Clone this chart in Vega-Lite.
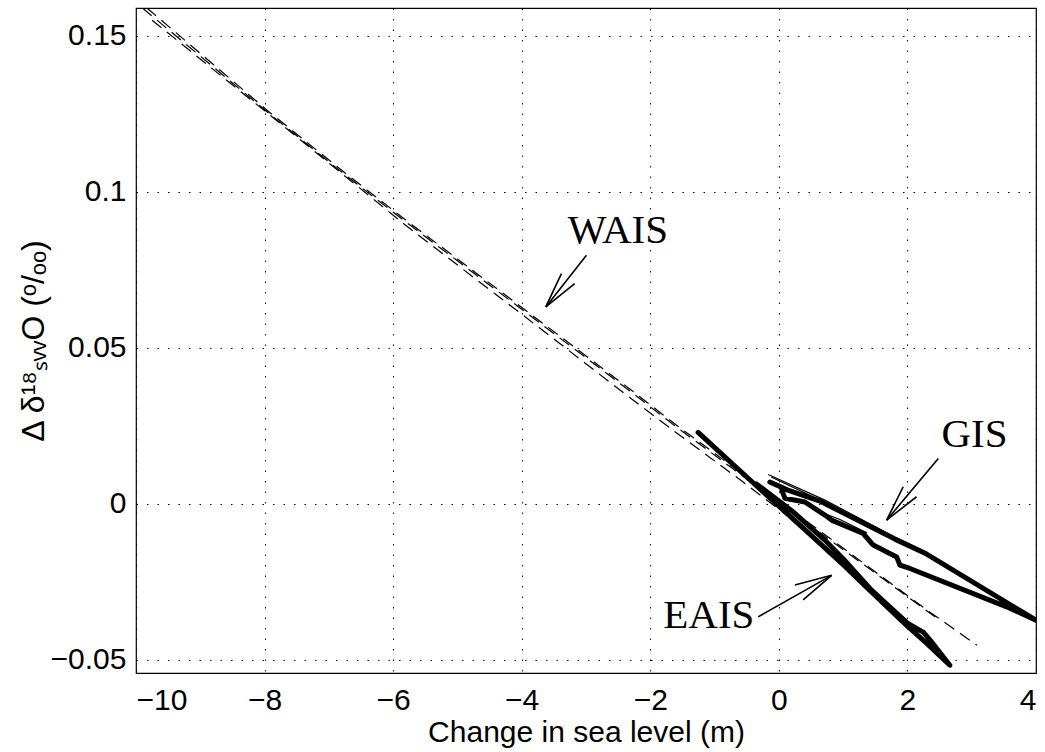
{
  "$schema": "https://vega.github.io/schema/vega-lite/v6.json",
  "width": 900,
  "height": 665,
  "autosize": {"type": "none"},
  "padding": {"left": 136, "top": 8, "right": 9, "bottom": 79},
  "background": "white",
  "config": {
    "view": {"stroke": "#000", "strokeWidth": 1.2},
    "font": "Liberation Sans"
  },
  "datasets": {
    "wais": [
      {"line": "A1", "i": 1, "x": -9.83, "y": 0.1589},
      {"line": "A1", "i": 2, "x": -7.93, "y": 0.1256},
      {"line": "A1", "i": 3, "x": -6.77, "y": 0.1064},
      {"line": "A1", "i": 4, "x": -5.82, "y": 0.0912},
      {"line": "A1", "i": 5, "x": -3.70, "y": 0.0583},
      {"line": "A1", "i": 6, "x": -2.293, "y": 0.0364},
      {"line": "A1", "i": 7, "x": -1.592, "y": 0.0252},
      {"line": "A1", "i": 8, "x": 0.0, "y": 0.0010},
      {"line": "A1", "i": 9, "x": 2.35, "y": -0.0347},
      {"line": "A1", "i": 10, "x": 3.08, "y": -0.0453},
      {"line": "A2", "i": 1, "x": -9.9, "y": 0.1589},
      {"line": "A2", "i": 2, "x": -7.93, "y": 0.1251},
      {"line": "A2", "i": 3, "x": -6.77, "y": 0.1058},
      {"line": "A2", "i": 4, "x": -5.82, "y": 0.0906},
      {"line": "A2", "i": 5, "x": -3.70, "y": 0.0577},
      {"line": "A2", "i": 6, "x": -2.293, "y": 0.0358},
      {"line": "A2", "i": 7, "x": -1.592, "y": 0.0246},
      {"line": "A2", "i": 8, "x": 0.0, "y": 0.0004},
      {"line": "A2", "i": 9, "x": 2.45, "y": -0.0365},
      {"line": "B", "i": 1, "x": -9.75, "y": 0.1550},
      {"line": "B", "i": 2, "x": -7.93, "y": 0.1248},
      {"line": "B", "i": 3, "x": -5.82, "y": 0.0895},
      {"line": "B", "i": 4, "x": -3.73, "y": 0.0565},
      {"line": "B", "i": 5, "x": -2.335, "y": 0.0343},
      {"line": "B", "i": 6, "x": -1.634, "y": 0.0234},
      {"line": "B", "i": 7, "x": -0.576, "y": 0.0073},
      {"line": "B", "i": 8, "x": 0.5, "y": -0.0096}
    ],
    "eais": [
      {"line": "E", "i": 1, "x": -1.256, "y": 0.0229},
      {"line": "E", "i": 2, "x": -0.35, "y": 0.0058},
      {"line": "E", "i": 3, "x": 0.456, "y": -0.0092},
      {"line": "E", "i": 4, "x": 1.0, "y": -0.0195},
      {"line": "E", "i": 5, "x": 1.42, "y": -0.0278},
      {"line": "E", "i": 6, "x": 2.0, "y": -0.0392},
      {"line": "E", "i": 7, "x": 2.3, "y": -0.0447},
      {"line": "E", "i": 8, "x": 2.66, "y": -0.0517},
      {"line": "E", "i": 9, "x": 2.35, "y": -0.0436},
      {"line": "E", "i": 10, "x": 2.25, "y": -0.0412},
      {"line": "E", "i": 11, "x": 2.0, "y": -0.0382},
      {"line": "E", "i": 12, "x": 1.42, "y": -0.0272},
      {"line": "E", "i": 13, "x": 1.0, "y": -0.0176},
      {"line": "E", "i": 14, "x": 0.72, "y": -0.0117},
      {"line": "E", "i": 15, "x": 0.2, "y": -0.0022},
      {"line": "E", "i": 16, "x": -0.35, "y": 0.0064}
    ],
    "gis": [
      {"line": "G", "i": 1, "x": -0.14, "y": 0.0070},
      {"line": "G", "i": 2, "x": 0.14, "y": 0.0044},
      {"line": "G", "i": 3, "x": 0.638, "y": 0.0009},
      {"line": "G", "i": 4, "x": 1.805, "y": -0.0113},
      {"line": "G", "i": 5, "x": 2.299, "y": -0.0161},
      {"line": "G", "i": 6, "x": 4.0, "y": -0.0373},
      {"line": "G", "i": 7, "x": 3.544, "y": -0.0330},
      {"line": "G", "i": 8, "x": 2.039, "y": -0.0207},
      {"line": "G", "i": 9, "x": 1.883, "y": -0.0196},
      {"line": "G", "i": 10, "x": 1.832, "y": -0.0170},
      {"line": "G", "i": 11, "x": 1.468, "y": -0.0132},
      {"line": "G", "i": 12, "x": 1.312, "y": -0.0095},
      {"line": "G", "i": 13, "x": 0.82, "y": -0.0052},
      {"line": "G", "i": 14, "x": 0.716, "y": -0.0036},
      {"line": "G", "i": 15, "x": 0.405, "y": 0.0006},
      {"line": "G", "i": 16, "x": 0.093, "y": 0.0018},
      {"line": "G", "i": 17, "x": 0.047, "y": 0.0044}
    ],
    "thin": [
      {"line": "T1", "i": 1, "x": -0.166, "y": 0.0094},
      {"line": "T1", "i": 2, "x": 0.716, "y": 0.0012},
      {"line": "T1", "i": 3, "x": 1.805, "y": -0.0106},
      {"line": "T1", "i": 4, "x": 2.299, "y": -0.0155},
      {"line": "T2", "i": 1, "x": -0.12, "y": 0.0086},
      {"line": "T2", "i": 2, "x": 0.6, "y": 0.0016},
      {"line": "T3", "i": 1, "x": 0.7, "y": -0.0030},
      {"line": "T3", "i": 2, "x": 0.95, "y": -0.0050},
      {"line": "T3", "i": 3, "x": 1.37, "y": -0.0093}
    ],
    "arrows": [
      {"x": -2.993, "y": 0.0797, "x2": -3.626, "y2": 0.0631},
      {"x": -3.382, "y": 0.0738, "x2": -3.626, "y2": 0.0631},
      {"x": -3.175, "y": 0.0706, "x2": -3.626, "y2": 0.0631},
      {"x": 2.48, "y": 0.01455, "x2": 1.676, "y2": -0.00523},
      {"x": 1.935, "y": 0.00548, "x2": 1.676, "y2": -0.00523},
      {"x": 2.142, "y": 0.00228, "x2": 1.676, "y2": -0.00523},
      {"x": -0.322, "y": -0.0362, "x2": 0.82, "y2": -0.0229},
      {"x": 0.249, "y": -0.026, "x2": 0.82, "y2": -0.0229},
      {"x": 0.378, "y": -0.0308, "x2": 0.82, "y2": -0.0229}
    ],
    "labels": [
      {"label": "WAIS", "x": -3.284, "y": 0.0836},
      {"label": "GIS", "x": 2.529, "y": 0.01817},
      {"label": "EAIS", "x": -1.798, "y": -0.03984}
    ]
  },
  "encoding": {
    "x": {
      "field": "x",
      "type": "quantitative",
      "scale": {"domain": [-10, 4], "nice": false, "zero": false},
      "axis": {
        "values": [-10, -8, -6, -4, -2, 0, 2, 4],
        "title": "Change in sea level (m)",
        "grid": true,
        "gridDash": [1.5, 9],
        "gridColor": "#000",
        "gridWidth": 1,
        "domain": false,
        "ticks": false,
        "labelFontSize": 30,
        "labelColor": "#000",
        "labelPadding": 12,
        "titleFontSize": 30,
        "titleFontWeight": "normal",
        "titleColor": "#000",
        "titlePadding": 2
      }
    },
    "y": {
      "field": "y",
      "type": "quantitative",
      "scale": {"domain": [-0.0542, 0.1589], "nice": false, "zero": false},
      "axis": {
        "values": [-0.05, 0, 0.05, 0.1, 0.15],
        "format": ".2~f",
        "title": "Δ δ¹⁸ₛᵥᵥO (ᵒ/ₒₒ)",
        "grid": true,
        "gridDash": [1.5, 9],
        "gridColor": "#000",
        "gridWidth": 1,
        "domain": false,
        "ticks": false,
        "labelFontSize": 30,
        "labelColor": "#000",
        "labelPadding": 10,
        "titleFontSize": 32,
        "titleFontWeight": "normal",
        "titleColor": "#000",
        "titlePadding": 0
      }
    }
  },
  "layer": [
    {
      "data": {"name": "wais"},
      "mark": {"type": "line", "stroke": "#000", "strokeWidth": 1.2, "strokeDash": [12, 7], "clip": true},
      "encoding": {"detail": {"field": "line"}, "order": {"field": "i", "type": "quantitative"}}
    },
    {
      "data": {"name": "eais"},
      "mark": {"type": "line", "stroke": "#000", "strokeWidth": 5, "strokeCap": "round", "strokeJoin": "round", "clip": true},
      "encoding": {"detail": {"field": "line"}, "order": {"field": "i", "type": "quantitative"}}
    },
    {
      "data": {"name": "gis"},
      "mark": {"type": "line", "stroke": "#000", "strokeWidth": 5, "strokeCap": "round", "strokeJoin": "round", "clip": true},
      "encoding": {"detail": {"field": "line"}, "order": {"field": "i", "type": "quantitative"}}
    },
    {
      "data": {"name": "thin"},
      "mark": {"type": "line", "stroke": "#000", "strokeWidth": 1.2, "clip": true},
      "encoding": {"detail": {"field": "line"}, "order": {"field": "i", "type": "quantitative"}}
    },
    {
      "data": {"name": "arrows"},
      "mark": {"type": "rule", "stroke": "#000", "strokeWidth": 1.6},
      "encoding": {"x2": {"field": "x2"}, "y2": {"field": "y2"}}
    },
    {
      "data": {"name": "labels"},
      "mark": {"type": "text", "font": "Liberation Serif", "fontSize": 41, "align": "left", "baseline": "alphabetic", "color": "#000"},
      "encoding": {"text": {"field": "label"}}
    }
  ]
}
